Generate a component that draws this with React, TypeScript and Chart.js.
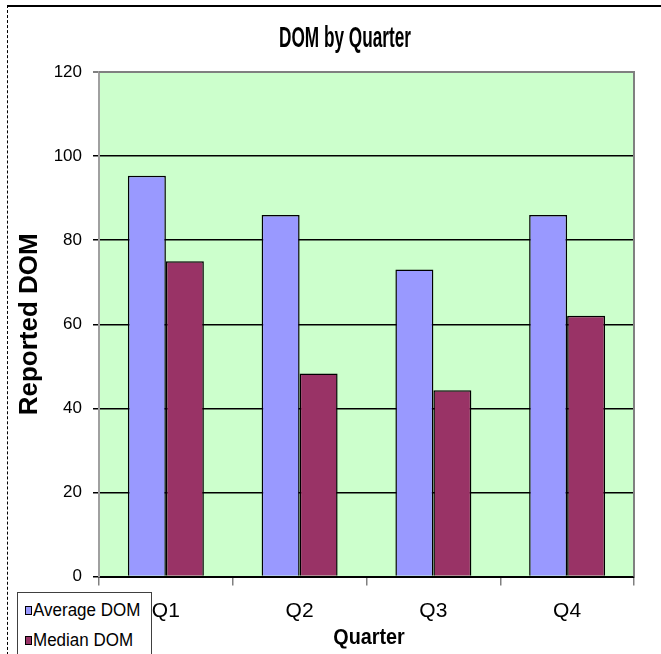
import React, { useEffect, useRef } from "react";
import { Chart, registerables } from "chart.js";

Chart.register(...registerables);

const categories = ["Q1", "Q2", "Q3", "Q4"];
const averageDOM = [95.3, 86, 73, 86];
const medianDOM = [75, 48.3, 44.3, 62];
const yTicks = [0, 20, 40, 60, 80, 100, 120];
const seriesNames = ["Average DOM", "Median DOM"];
const seriesColors = ["#9999ff", "#993366"];
const chartTitle = "DOM by Quarter";
const xTitle = "Quarter";
const yTitle = "Reported DOM";

const FONT = "'Liberation Sans', Arial, sans-serif";

const plotBg = {
  id: "plotBg",
  beforeDraw(chart: any) {
    const { ctx, chartArea } = chart;
    if (!chartArea) return;
    ctx.save();
    ctx.fillStyle = "#ccffcc";
    ctx.fillRect(chartArea.left, chartArea.top, chartArea.right - chartArea.left, chartArea.bottom - chartArea.top);
    ctx.restore();
  },
  afterDraw(chart: any) {
    const { ctx, chartArea } = chart;
    if (!chartArea) return;
    ctx.save();
    ctx.strokeStyle = "#808080";
    ctx.lineWidth = 2;
    ctx.beginPath();
    ctx.moveTo(chartArea.left, chartArea.top);
    ctx.lineTo(chartArea.right, chartArea.top);
    ctx.lineTo(chartArea.right, chartArea.bottom);
    ctx.stroke();
    ctx.restore();
  },
};

export default function App() {
  const canvasRef = useRef<HTMLCanvasElement | null>(null);

  useEffect(() => {
    if (!canvasRef.current) return;
    const chart = new Chart(canvasRef.current, {
      type: "bar",
      data: {
        labels: categories,
        datasets: [
          {
            label: seriesNames[0],
            data: averageDOM,
            backgroundColor: seriesColors[0],
            borderColor: "#000",
            borderWidth: 1.5,
          },
          {
            label: seriesNames[1],
            data: medianDOM,
            backgroundColor: seriesColors[1],
            borderColor: "#000",
            borderWidth: 1.5,
          },
        ],
      },
      options: {
        responsive: false,
        animation: false,
        devicePixelRatio: 1,
        datasets: { bar: { categoryPercentage: 0.568, barPercentage: 1 } },
        layout: { padding: { left: 0, right: 27, top: 72, bottom: 0 } },
        plugins: {
          legend: { display: false },
          tooltip: { enabled: false },
          title: { display: false },
        },
        scales: {
          x: {
            offset: true,
            grid: {
              display: true,
              drawOnChartArea: false,
              offset: true,
              tickLength: 9,
              color: "#808080",
              lineWidth: 1.5,
            },
            border: { color: "#000", width: 2 },
            ticks: {
              color: "#000",
              font: { family: FONT, size: 21 },
              padding: 13,
            },
            title: { display: false },
            afterFit(scale: any) {
              scale.height = 77.5;
            },
          },
          y: {
            min: 0,
            max: 120,
            afterBuildTicks(scale: any) {
              scale.ticks = yTicks.map((v) => ({ value: v }));
            },
            grid: {
              color: (ctx: any) => (ctx.tick && ctx.tick.value === 120 ? "#808080" : "#000"),
              lineWidth: (ctx: any) => (ctx.tick && ctx.tick.value === 120 ? 2 : 1.5),
              tickLength: 6,
            },
            border: { color: "#a0a0a0", width: 2 },
            ticks: {
              color: "#000",
              font: { family: FONT, size: 17 },
              padding: 11,
            },
            title: {
              display: true,
              text: yTitle,
              color: "#000",
              font: { family: FONT, size: 26, weight: "bold" },
              padding: { top: 14, bottom: 0 },
            },
            afterFit(scale: any) {
              scale.width = 99;
            },
          },
        },
      },
      plugins: [plotBg],
    });
    return () => chart.destroy();
  }, []);

  const textCentered = (cx: number, cy: number, sx: number, sy: number): React.CSSProperties => ({
    position: "absolute",
    left: cx,
    top: cy,
    transform: `translate(-50%, -50%) scale(${sx}, ${sy})`,
    whiteSpace: "nowrap",
    color: "#000",
    fontWeight: "bold",
    lineHeight: 1,
  });

  return (
    <div
      style={{
        position: "absolute",
        left: 0,
        top: 0,
        width: 661,
        height: 654,
        overflow: "hidden",
        background: "#fff",
        fontFamily: FONT,
      }}
    >
      <div
        style={{
          position: "absolute",
          left: 7,
          top: 5,
          width: 660,
          height: 660,
          borderTop: "2px solid #000",
          borderLeft: "1px dashed #000",
          boxSizing: "border-box",
        }}
      />
      <canvas
        ref={canvasRef}
        width={661}
        height={654}
        style={{ position: "absolute", left: 0, top: 0, width: 661, height: 654 }}
      />
      <div style={{ ...textCentered(345, 37, 0.86, 1.45), fontSize: 20 }}>{chartTitle}</div>
      <div style={{ ...textCentered(369, 636, 1.1, 1.25), fontSize: 18 }}>{xTitle}</div>
      <div
        style={{
          position: "absolute",
          left: 17,
          top: 592,
          width: 135,
          height: 80,
          background: "#fff",
          border: "1px solid #404040",
          boxSizing: "border-box",
          paddingTop: 2,
        }}
      >
        {seriesNames.map((name, i) => (
          <div
            key={name}
            style={{
              display: "flex",
              alignItems: "center",
              height: 30,
              paddingLeft: 7,
              fontSize: 17,
              color: "#000",
              whiteSpace: "nowrap",
            }}
          >
            <span
              style={{
                display: "inline-block",
                width: 5,
                height: 7,
                background: seriesColors[i],
                border: "1px solid #000",
                marginRight: 1,
              }}
            />
            <span style={{ display: "inline-block", transform: "scaleY(1.1)" }}>{name}</span>
          </div>
        ))}
      </div>
    </div>
  );
}
